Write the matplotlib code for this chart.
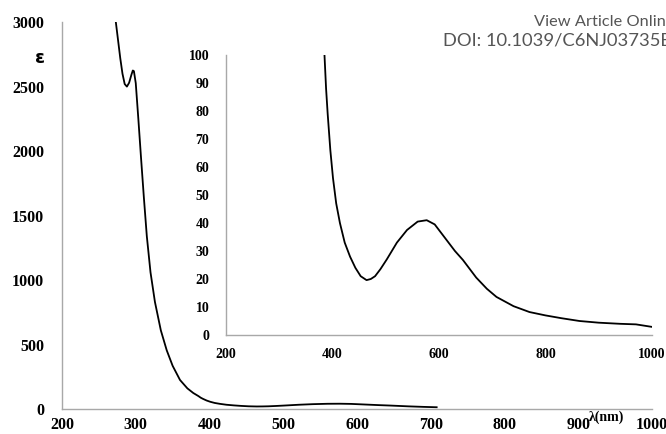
import matplotlib
matplotlib.use("Agg")
import matplotlib.pyplot as plt
import numpy as np

# absorption spectrum: wavelength (nm) and epsilon
wavelength = [273, 276, 279, 282, 285, 288, 291, 294, 296, 297.5, 300, 303.5,
              307, 311, 315, 320, 326, 334, 342, 350, 360, 370, 378, 385, 388,
              391, 396, 401, 407, 414, 423, 433, 443, 453, 464, 472, 480, 490,
              502, 521, 540, 560, 577, 592, 610, 630, 645, 670, 690, 708, 740,
              770, 800, 830, 864, 900, 940, 970, 1000]
epsilon = [3000, 2860, 2720, 2600, 2520, 2500, 2530, 2590, 2625, 2620, 2527,
           2250, 1960, 1640, 1340, 1060, 830, 610, 455, 335, 225, 160, 124,
           100, 88, 79, 66, 56, 47, 40, 33, 28, 24, 21, 19.6, 20, 21, 23.5,
           27, 33, 37.5, 40.5, 41, 39.5, 35, 30, 26.8, 20.5, 16.5, 13.6, 10.3,
           8.2, 7, 6, 5, 4.4, 4, 3.8, 2.9]
main_end = 720  # main trace stops here

main_yticks = [0, 500, 1000, 1500, 2000, 2500, 3000]
main_xticks = [200, 300, 400, 500, 600, 700, 800, 900, 1000]
inset_yticks = list(range(0, 101, 10))
inset_xticks = [200, 400, 600, 800, 1000]

wl = np.array(wavelength)
ep = np.array(epsilon)

SERIF = "Liberation Serif"
SPINE = "#a8a8a8"
H = 434

fig = plt.figure(figsize=(6.66, 4.34), dpi=100)


def style(ax, size):
    for s in ("top", "right"):
        ax.spines[s].set_visible(False)
    for s in ("left", "bottom"):
        ax.spines[s].set_color(SPINE)
        ax.spines[s].set_linewidth(1.0)
    ax.tick_params(length=0)
    for lab in ax.get_xticklabels() + ax.get_yticklabels():
        lab.set_fontfamily(SERIF)
        lab.set_fontweight("bold")
        lab.set_fontsize(size)


# main spectrum
ax = fig.add_axes([0.0931, 0.0576, 0.8859, 0.8914])
m = wl <= main_end
ax.plot(wl[m], ep[m], color="black", lw=1.3)
ax.set_xlim(200, 1000)
ax.set_ylim(0, 3000)
ax.set_xticks(main_xticks)
ax.set_yticks(main_yticks)
ax.tick_params(axis="y", pad=13)
ax.tick_params(axis="x", pad=6)
style(ax, 11.5)
ax.text(40, H - 58, "ε", transform=None, fontsize=13, fontweight="bold",
        ha="center", va="center")
ax.text(607, H - 417, "λ(nm)", transform=None, fontsize=10, fontweight="bold",
        family=SERIF, ha="center", va="center")

# inset zoom on the visible band
ins = fig.add_axes([0.3393, 0.2281, 0.6396, 0.6452])
ins.plot(wl, ep, color="black", lw=1.3)
ins.set_xlim(200, 1000)
ins.set_ylim(0, 100)
ins.set_xticks(inset_xticks)
ins.set_yticks(inset_yticks)
ins.tick_params(axis="y", pad=12)
ins.tick_params(axis="x", pad=9)
style(ins, 10)
ins.patch.set_alpha(0)

fig.text(534 / 666, 1 - 22 / H, "View Article Online", fontsize=11.8,
         color="#555555", family="Lato", ha="left", va="center")
fig.text(443 / 666, 1 - 41 / H, "DOI: 10.1039/C6NJ03735E", fontsize=13.2,
         color="#555555", family="Lato", ha="left", va="center")

fig.savefig("out.png", dpi=100)
